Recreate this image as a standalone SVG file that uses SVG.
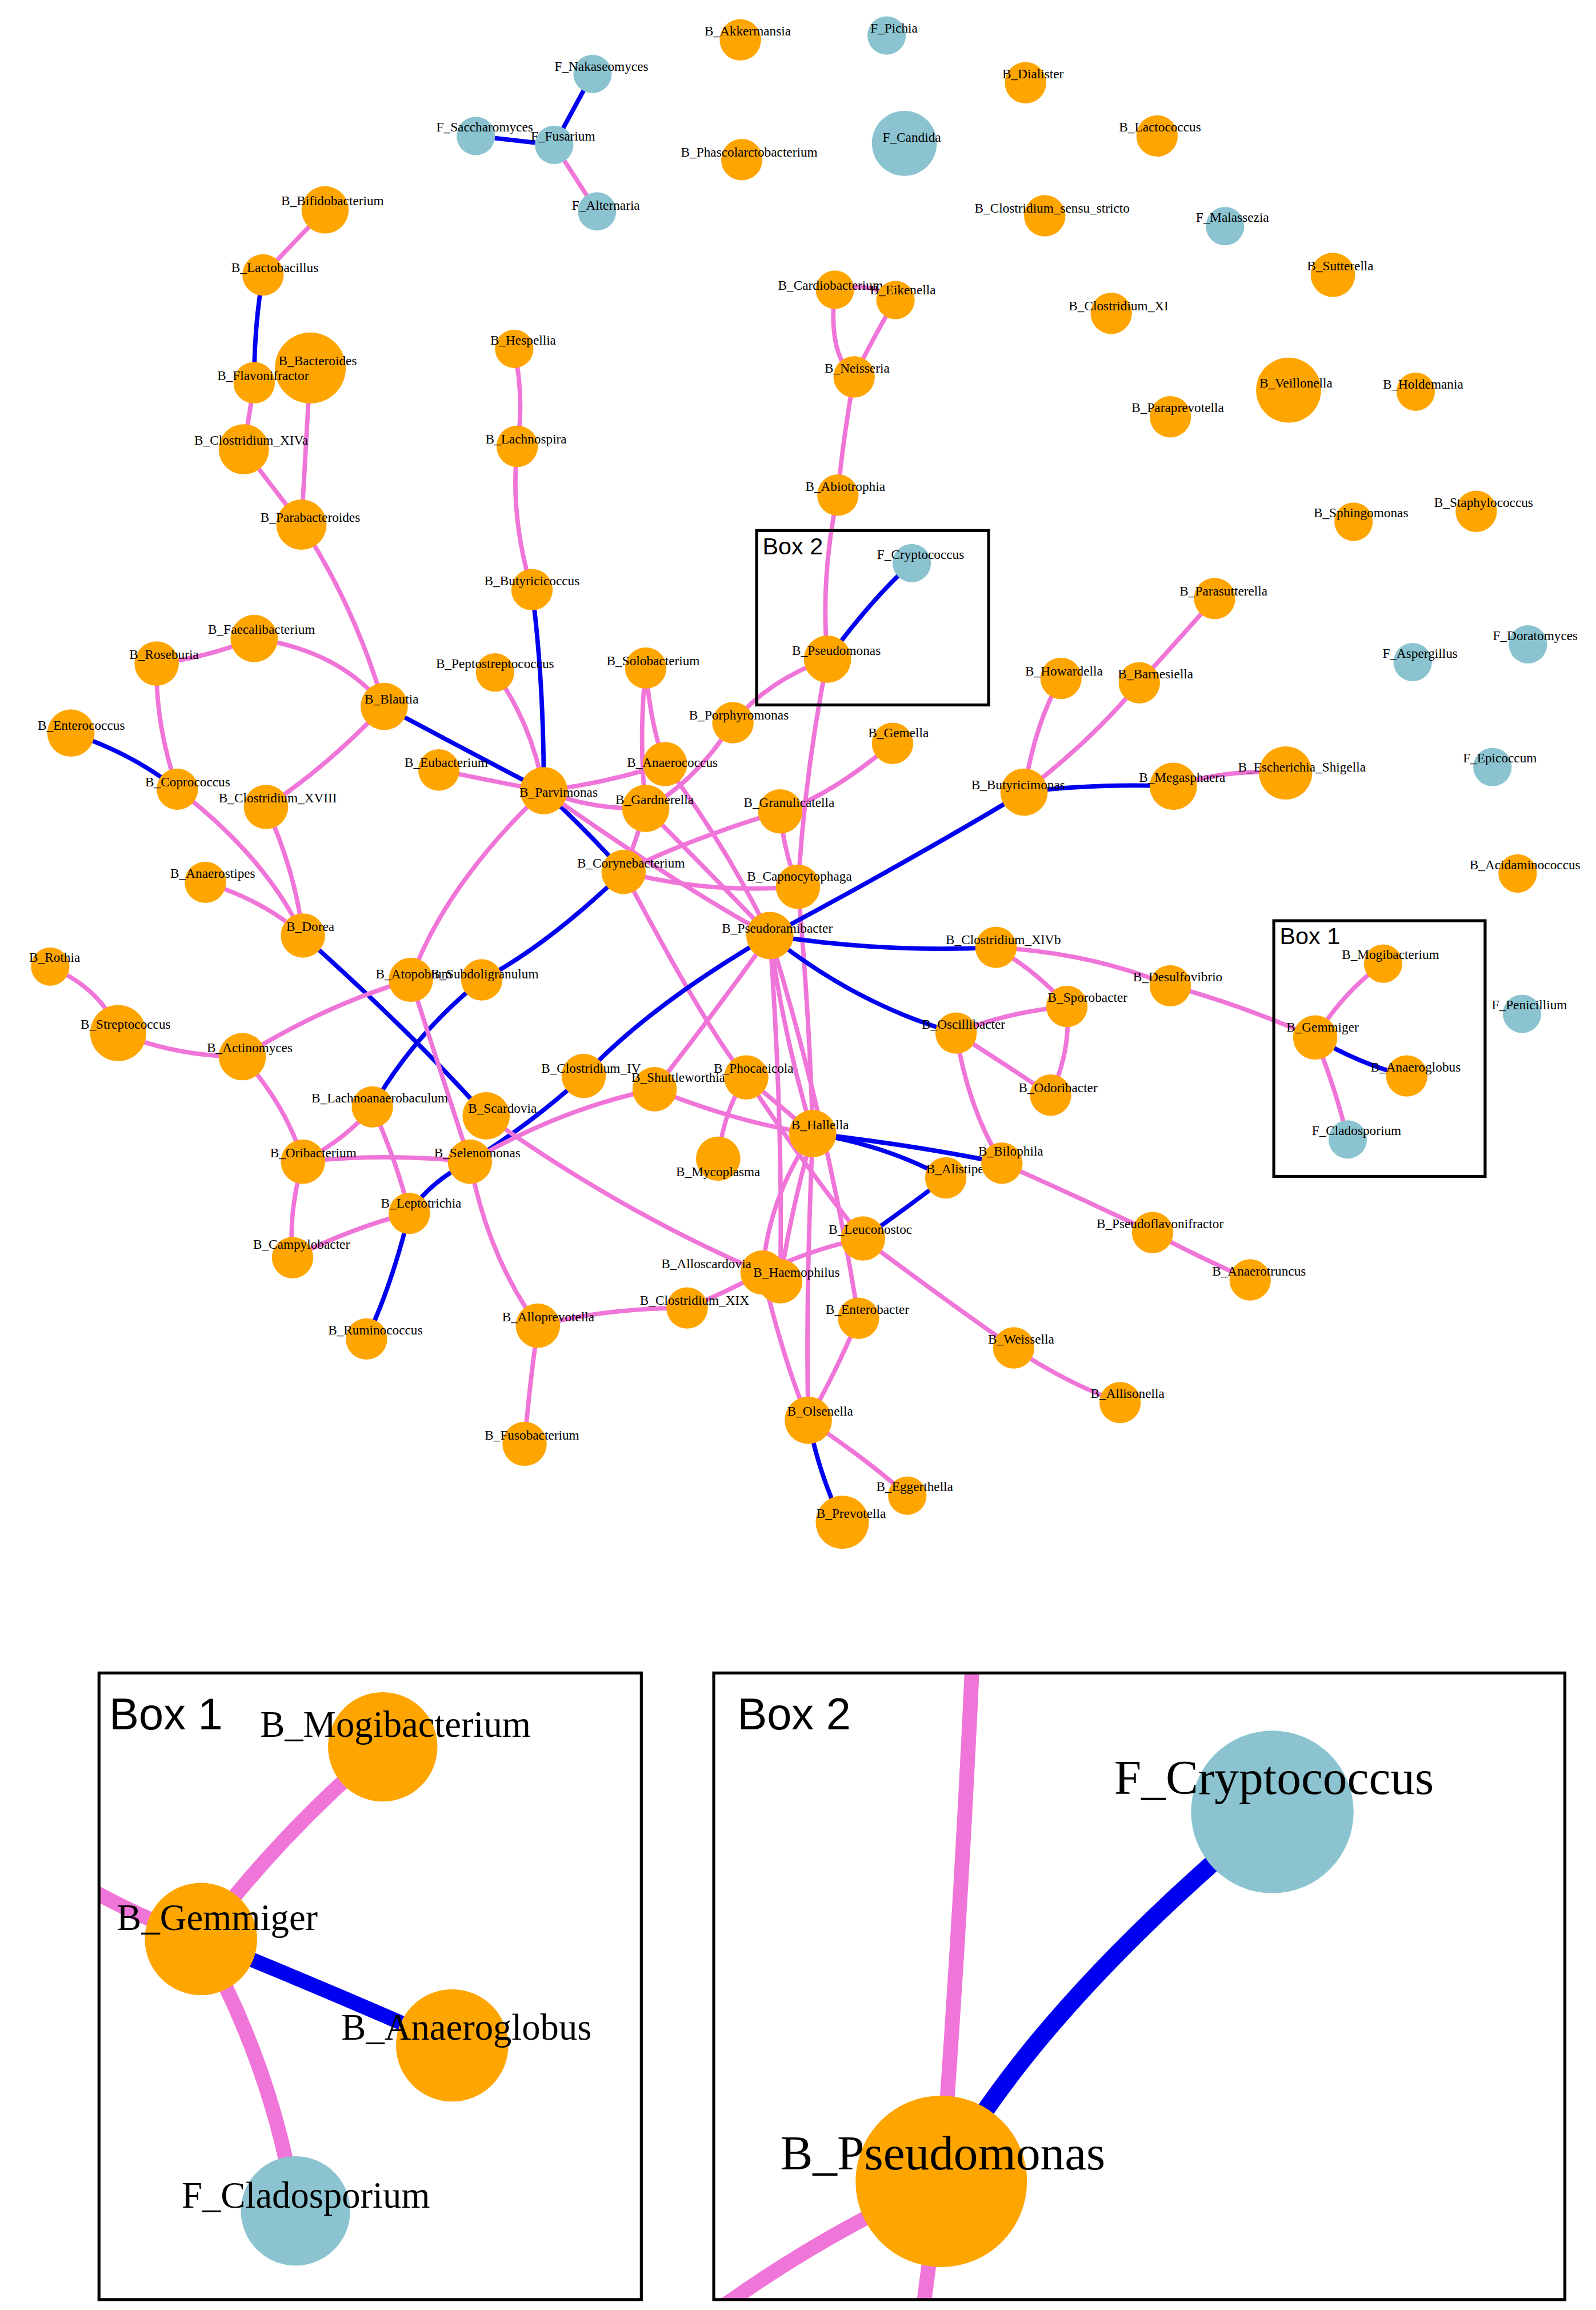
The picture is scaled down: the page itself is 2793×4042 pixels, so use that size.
<svg xmlns="http://www.w3.org/2000/svg" width="2793" height="4042" viewBox="0 0 2793 4042">
<style>
.p{stroke:#F075D8;stroke-width:3;fill:none;stroke-linecap:round}
.b{stroke:#0000F0;stroke-width:3;fill:none;stroke-linecap:round}
.o{fill:#FFA500}
.c{fill:#8BC4D0}
text{font-family:"Liberation Serif",serif;font-size:9px;fill:#000;text-anchor:middle}
.bx{fill:none;stroke:#000;stroke-width:2}
.bl{font-family:"Liberation Sans",sans-serif;font-size:16px;text-anchor:start}
.big{font-size:25px;text-anchor:start}
.big2{font-size:33px;text-anchor:start}
.bl2{font-family:"Liberation Sans",sans-serif;font-size:30px;text-anchor:start}
</style>
<defs>
<clipPath id="c1"><rect x="67" y="1132" width="367" height="424"/></clipPath>
<clipPath id="c2"><rect x="483" y="1132" width="576" height="424"/></clipPath>
</defs>
<rect width="2793" height="4042" fill="#fff"/>
<g transform="scale(2.586)">
<g id="edges">
<line class="b" x1="401" y1="50" x2="375" y2="98"/>
<line class="b" x1="322" y1="92" x2="375" y2="98"/>
<line class="p" x1="375" y1="98" x2="404" y2="143"/>
<line class="p" x1="220" y1="142" x2="178" y2="186"/>
<path class="b" d="M178 186 Q172 220 172 259"/>
<line class="p" x1="172" y1="259" x2="165" y2="304"/>
<line class="p" x1="210" y1="249" x2="204" y2="355"/>
<line class="p" x1="165" y1="304" x2="204" y2="355"/>
<path class="p" d="M204 355 Q240 410 260 478"/>
<path class="p" d="M348 236 Q355 270 350 302"/>
<path class="p" d="M350 302 Q345 350 360 399"/>
<path class="b" d="M360 399 Q368 460 368 535"/>
<path class="p" d="M172 432 Q230 440 260 478"/>
<path class="p" d="M106 449 Q140 445 172 432"/>
<path class="p" d="M106 449 Q105 490 120 534"/>
<path class="b" d="M48 496 Q90 510 120 534"/>
<path class="p" d="M260 478 Q220 520 180 546"/>
<path class="b" d="M260 478 Q320 510 368 535"/>
<path class="p" d="M120 534 Q180 580 205 633"/>
<path class="p" d="M180 546 Q200 590 205 633"/>
<path class="p" d="M139 597 Q180 610 205 633"/>
<path class="b" d="M205 633 Q280 700 329 755"/>
<path class="p" d="M335 455 Q360 490 368 535"/>
<path class="p" d="M297 521 Q340 530 368 535"/>
<path class="p" d="M437 452 Q432 500 437 547"/>
<path class="p" d="M437 452 Q440 490 450 517"/>
<path class="p" d="M368 535 Q410 530 450 517"/>
<path class="p" d="M368 535 Q400 548 437 547"/>
<path class="p" d="M496 489 Q470 530 437 547"/>
<path class="p" d="M496 489 Q520 460 560 446"/>
<path class="p" d="M565 196 Q560 240 578 255"/>
<path class="p" d="M565 196 Q590 190 606 203"/>
<path class="p" d="M606 203 Q590 230 578 255"/>
<path class="p" d="M578 255 Q570 300 567 335"/>
<path class="p" d="M567 335 Q555 390 560 446"/>
<path class="b" d="M617 381 Q590 405 560 446"/>
<path class="p" d="M560 446 Q545 520 540 600"/>
<path class="p" d="M604 503 Q560 540 528 549"/>
<path class="p" d="M528 549 Q460 570 422 590"/>
<path class="p" d="M528 549 Q530 575 540 600"/>
<path class="b" d="M368 535 Q400 565 422 590"/>
<path class="p" d="M437 547 Q430 570 422 590"/>
<path class="p" d="M422 590 Q480 605 540 600"/>
<path class="p" d="M368 535 Q460 600 521 633"/>
<path class="p" d="M450 517 Q490 570 521 633"/>
<path class="p" d="M437 547 Q480 590 521 633"/>
<path class="p" d="M368 535 Q300 600 278 663"/>
<path class="b" d="M422 590 Q370 640 326 663"/>
<path class="b" d="M326 663 Q280 700 252 749"/>
<path class="p" d="M422 590 Q480 700 505 729"/>
<path class="p" d="M540 600 Q548 690 550 767"/>
<path class="b" d="M521 633 Q620 580 693 536"/>
<path class="b" d="M693 536 Q740 530 794 532"/>
<path class="p" d="M693 536 Q700 490 718 459"/>
<path class="p" d="M693 536 Q740 500 771 462"/>
<path class="p" d="M771 462 Q800 430 822 405"/>
<path class="p" d="M794 532 Q830 520 870 523"/>
<path class="b" d="M521 633 Q600 645 674 641"/>
<path class="b" d="M521 633 Q580 680 647 699"/>
<path class="p" d="M674 641 Q740 645 792 667"/>
<path class="p" d="M674 641 Q705 660 722 681"/>
<path class="p" d="M792 667 Q840 680 890 702"/>
<path class="p" d="M722 681 Q680 685 647 699"/>
<path class="p" d="M722 681 Q725 710 711 741"/>
<path class="p" d="M647 699 Q680 720 711 741"/>
<path class="p" d="M647 699 Q655 750 678 787"/>
<path class="p" d="M890 702 Q910 670 936 652"/>
<path class="b" d="M890 702 Q920 720 952 728"/>
<path class="p" d="M890 702 Q905 740 912 771"/>
<path class="b" d="M521 633 Q440 680 395 728"/>
<path class="b" d="M395 728 Q360 760 318 786"/>
<path class="b" d="M318 786 Q290 800 277 821"/>
<path class="b" d="M277 821 Q265 870 248 906"/>
<path class="p" d="M521 633 Q480 690 443 737"/>
<path class="p" d="M521 633 Q530 700 550 767"/>
<path class="p" d="M521 633 Q530 760 528 867"/>
<path class="p" d="M521 633 Q560 760 581 892"/>
<path class="p" d="M34 654 Q70 670 80 699"/>
<path class="p" d="M80 699 Q120 715 164 715"/>
<path class="p" d="M164 715 Q220 680 278 663"/>
<path class="p" d="M164 715 Q195 750 205 786"/>
<path class="p" d="M278 663 Q300 730 318 786"/>
<path class="p" d="M205 786 Q260 780 318 786"/>
<path class="p" d="M205 786 Q235 770 252 749"/>
<path class="p" d="M205 786 Q195 820 198 851"/>
<path class="p" d="M198 851 Q240 830 277 821"/>
<path class="p" d="M252 749 Q270 790 277 821"/>
<path class="p" d="M318 786 Q380 750 443 737"/>
<path class="p" d="M318 786 Q330 850 364 897"/>
<path class="p" d="M329 755 Q420 820 516 861"/>
<path class="p" d="M443 737 Q500 760 550 767"/>
<path class="p" d="M505 729 Q490 750 486 784"/>
<path class="p" d="M505 729 Q530 750 550 767"/>
<path class="p" d="M505 729 Q545 790 584 838"/>
<path class="b" d="M550 767 Q600 775 640 797"/>
<path class="b" d="M550 767 Q620 775 678 787"/>
<path class="b" d="M640 797 Q610 820 584 838"/>
<path class="p" d="M550 767 Q520 810 516 861"/>
<path class="p" d="M550 767 Q535 820 528 867"/>
<path class="p" d="M550 767 Q545 880 547 961"/>
<path class="p" d="M678 787 Q730 810 780 834"/>
<path class="p" d="M780 834 Q810 850 846 866"/>
<path class="p" d="M584 838 Q550 845 516 861"/>
<path class="p" d="M584 838 Q640 880 686 912"/>
<path class="p" d="M686 912 Q720 935 758 949"/>
<path class="p" d="M516 861 Q490 875 465 885"/>
<path class="p" d="M465 885 Q410 885 364 897"/>
<path class="p" d="M364 897 Q358 940 355 977"/>
<path class="p" d="M516 861 Q530 920 547 961"/>
<path class="p" d="M581 892 Q565 930 547 961"/>
<path class="b" d="M547 961 Q555 1000 570 1030"/>
<path class="p" d="M547 961 Q590 990 614 1012"/>
</g>
<g id="nodes">
<g id="n1"><circle class="o" cx="501" cy="27" r="14"/><text x="506" y="24">B_Akkermansia</text></g>
<g id="n2"><circle class="c" cx="600" cy="24" r="13"/><text x="605" y="22">F_Pichia</text></g>
<g id="n3"><circle class="c" cx="401" cy="50" r="13"/><text x="407" y="48">F_Nakaseomyces</text></g>
<g id="n4"><circle class="c" cx="322" cy="92" r="13"/><text x="328" y="89">F_Saccharomyces</text></g>
<g id="n5"><circle class="c" cx="375" cy="98" r="13"/><text x="381" y="95">F_Fusarium</text></g>
<g id="n6"><circle class="c" cx="404" cy="143" r="13"/><text x="410" y="142">F_Alternaria</text></g>
<g id="n7"><circle class="o" cx="694" cy="56" r="14"/><text x="699" y="53">B_Dialister</text></g>
<g id="n8"><circle class="c" cx="612" cy="97" r="22"/><text x="617" y="96">F_Candida</text></g>
<g id="n9"><circle class="o" cx="502" cy="108" r="14"/><text x="507" y="106">B_Phascolarctobacterium</text></g>
<g id="n10"><circle class="o" cx="783" cy="92" r="14"/><text x="785" y="89">B_Lactococcus</text></g>
<g id="n11"><circle class="o" cx="707" cy="146" r="14"/><text x="712" y="144">B_Clostridium_sensu_stricto</text></g>
<g id="n12"><circle class="c" cx="829" cy="153" r="13"/><text x="834" y="150">F_Malassezia</text></g>
<g id="n13"><circle class="o" cx="902" cy="186" r="15"/><text x="907" y="183">B_Sutterella</text></g>
<g id="n14"><circle class="o" cx="752" cy="212" r="14"/><text x="757" y="210">B_Clostridium_XI</text></g>
<g id="n15"><circle class="o" cx="872" cy="264" r="22"/><text x="877" y="262">B_Veillonella</text></g>
<g id="n16"><circle class="o" cx="958" cy="265" r="13"/><text x="963" y="263">B_Holdemania</text></g>
<g id="n17"><circle class="o" cx="792" cy="282" r="14"/><text x="797" y="279">B_Paraprevotella</text></g>
<g id="n18"><circle class="o" cx="916" cy="353" r="13"/><text x="921" y="350">B_Sphingomonas</text></g>
<g id="n19"><circle class="o" cx="999" cy="346" r="14"/><text x="1004" y="343">B_Staphylococcus</text></g>
<g id="n20"><circle class="o" cx="822" cy="405" r="14"/><text x="828" y="403">B_Parasutterella</text></g>
<g id="n21"><circle class="c" cx="956" cy="448" r="13"/><text x="961" y="445">F_Aspergillus</text></g>
<g id="n22"><circle class="c" cx="1034" cy="436" r="13"/><text x="1039" y="433">F_Doratomyces</text></g>
<g id="n23"><circle class="o" cx="870" cy="523" r="18"/><text x="881" y="522">B_Escherichia_Shigella</text></g>
<g id="n24"><circle class="c" cx="1010" cy="519" r="13"/><text x="1015" y="516">F_Epicoccum</text></g>
<g id="n25"><circle class="o" cx="1027" cy="591" r="13"/><text x="1032" y="588">B_Acidaminococcus</text></g>
<g id="n26"><circle class="c" cx="1030" cy="686" r="13"/><text x="1035" y="683">F_Penicillium</text></g>
<g id="n27"><circle class="o" cx="220" cy="142" r="16"/><text x="225" y="139">B_Bifidobacterium</text></g>
<g id="n28"><circle class="o" cx="178" cy="186" r="14"/><text x="186" y="184">B_Lactobacillus</text></g>
<g id="n29"><circle class="o" cx="210" cy="249" r="24"/><text x="215" y="247">B_Bacteroides</text></g>
<g id="n30"><circle class="o" cx="172" cy="259" r="14"/><text x="178" y="257">B_Flavonifractor</text></g>
<g id="n31"><circle class="o" cx="165" cy="304" r="17"/><text x="170" y="301">B_Clostridium_XIVa</text></g>
<g id="n32"><circle class="o" cx="204" cy="355" r="17"/><text x="210" y="353">B_Parabacteroides</text></g>
<g id="n33"><circle class="o" cx="348" cy="236" r="13"/><text x="354" y="233">B_Hespellia</text></g>
<g id="n34"><circle class="o" cx="350" cy="302" r="14"/><text x="356" y="300">B_Lachnospira</text></g>
<g id="n35"><circle class="o" cx="360" cy="399" r="14"/><text x="360" y="396">B_Butyricicoccus</text></g>
<g id="n36"><circle class="o" cx="172" cy="432" r="16"/><text x="177" y="429">B_Faecalibacterium</text></g>
<g id="n37"><circle class="o" cx="106" cy="449" r="15"/><text x="111" y="446">B_Roseburia</text></g>
<g id="n38"><circle class="o" cx="260" cy="478" r="16"/><text x="265" y="476">B_Blautia</text></g>
<g id="n39"><circle class="o" cx="48" cy="496" r="16"/><text x="55" y="494">B_Enterococcus</text></g>
<g id="n40"><circle class="o" cx="120" cy="534" r="14"/><text x="127" y="532">B_Coprococcus</text></g>
<g id="n41"><circle class="o" cx="180" cy="546" r="15"/><text x="188" y="543">B_Clostridium_XVIII</text></g>
<g id="n42"><circle class="o" cx="139" cy="597" r="14"/><text x="144" y="594">B_Anaerostipes</text></g>
<g id="n43"><circle class="o" cx="205" cy="633" r="15"/><text x="210" y="630">B_Dorea</text></g>
<g id="n44"><circle class="o" cx="34" cy="654" r="13"/><text x="37" y="651">B_Rothia</text></g>
<g id="n45"><circle class="o" cx="80" cy="699" r="19"/><text x="85" y="696">B_Streptococcus</text></g>
<g id="n46"><circle class="o" cx="164" cy="715" r="16"/><text x="169" y="712">B_Actinomyces</text></g>
<g id="n47"><circle class="o" cx="335" cy="455" r="13"/><text x="335" y="452">B_Peptostreptococcus</text></g>
<g id="n48"><circle class="o" cx="437" cy="452" r="14"/><text x="442" y="450">B_Solobacterium</text></g>
<g id="n49"><circle class="o" cx="496" cy="489" r="14"/><text x="500" y="487">B_Porphyromonas</text></g>
<g id="n50"><circle class="o" cx="297" cy="521" r="14"/><text x="302" y="519">B_Eubacterium</text></g>
<g id="n51"><circle class="o" cx="450" cy="517" r="15"/><text x="455" y="519">B_Anaerococcus</text></g>
<g id="n52"><circle class="o" cx="368" cy="535" r="16"/><text x="378" y="539">B_Parvimonas</text></g>
<g id="n53"><circle class="o" cx="437" cy="547" r="16"/><text x="443" y="544">B_Gardnerella</text></g>
<g id="n54"><circle class="o" cx="565" cy="196" r="13"/><text x="562" y="196">B_Cardiobacterium</text></g>
<g id="n55"><circle class="o" cx="606" cy="203" r="13"/><text x="611" y="199">B_Eikenella</text></g>
<g id="n56"><circle class="o" cx="578" cy="255" r="14"/><text x="580" y="252">B_Neisseria</text></g>
<g id="n57"><circle class="o" cx="567" cy="335" r="14"/><text x="572" y="332">B_Abiotrophia</text></g>
<g id="n58"><circle class="c" cx="617" cy="381" r="13"/><text x="623" y="378">F_Cryptococcus</text></g>
<g id="n59"><circle class="o" cx="560" cy="446" r="16"/><text x="566" y="443">B_Pseudomonas</text></g>
<g id="n60"><circle class="o" cx="604" cy="503" r="14"/><text x="608" y="499">B_Gemella</text></g>
<g id="n61"><circle class="o" cx="528" cy="549" r="15"/><text x="534" y="546">B_Granulicatella</text></g>
<g id="n62"><circle class="o" cx="422" cy="590" r="15"/><text x="427" y="587">B_Corynebacterium</text></g>
<g id="n63"><circle class="o" cx="540" cy="600" r="15"/><text x="541" y="596">B_Capnocytophaga</text></g>
<g id="n64"><circle class="o" cx="521" cy="633" r="16"/><text x="526" y="631">B_Pseudoramibacter</text></g>
<g id="n65"><circle class="o" cx="278" cy="663" r="15"/><text x="280" y="662">B_Atopobium</text></g>
<g id="n66"><circle class="o" cx="326" cy="663" r="14"/><text x="328" y="662">B_Subdoligranulum</text></g>
<g id="n67"><circle class="o" cx="718" cy="459" r="14"/><text x="720" y="457">B_Howardella</text></g>
<g id="n68"><circle class="o" cx="771" cy="462" r="14"/><text x="782" y="459">B_Barnesiella</text></g>
<g id="n69"><circle class="o" cx="693" cy="536" r="16"/><text x="689" y="534">B_Butyricimonas</text></g>
<g id="n70"><circle class="o" cx="794" cy="532" r="16"/><text x="800" y="529">B_Megasphaera</text></g>
<g id="n71"><circle class="o" cx="674" cy="641" r="14"/><text x="679" y="639">B_Clostridium_XlVb</text></g>
<g id="n72"><circle class="o" cx="792" cy="667" r="14"/><text x="797" y="664">B_Desulfovibrio</text></g>
<g id="n73"><circle class="o" cx="722" cy="681" r="14"/><text x="736" y="678">B_Sporobacter</text></g>
<g id="n74"><circle class="o" cx="647" cy="699" r="14"/><text x="652" y="696">B_Oscillibacter</text></g>
<g id="n75"><circle class="o" cx="711" cy="741" r="14"/><text x="716" y="739">B_Odoribacter</text></g>
<g id="n76"><circle class="o" cx="936" cy="652" r="13"/><text x="941" y="649">B_Mogibacterium</text></g>
<g id="n77"><circle class="o" cx="890" cy="702" r="15"/><text x="895" y="698">B_Gemmiger</text></g>
<g id="n78"><circle class="o" cx="952" cy="728" r="14"/><text x="958" y="725">B_Anaeroglobus</text></g>
<g id="n79"><circle class="c" cx="912" cy="771" r="13"/><text x="918" y="768">F_Cladosporium</text></g>
<g id="n80"><circle class="o" cx="395" cy="728" r="15"/><text x="400" y="726">B_Clostridium_IV</text></g>
<g id="n81"><circle class="o" cx="443" cy="737" r="15"/><text x="459" y="732">B_Shuttleworthia</text></g>
<g id="n82"><circle class="o" cx="505" cy="729" r="15"/><text x="510" y="726">B_Phocaeicola</text></g>
<g id="n83"><circle class="o" cx="252" cy="749" r="14"/><text x="257" y="746">B_Lachnoanaerobaculum</text></g>
<g id="n84"><circle class="o" cx="329" cy="755" r="16"/><text x="340" y="753">B_Scardovia</text></g>
<g id="n85"><circle class="o" cx="318" cy="786" r="15"/><text x="323" y="783">B_Selenomonas</text></g>
<g id="n86"><circle class="o" cx="205" cy="786" r="15"/><text x="212" y="783">B_Oribacterium</text></g>
<g id="n87"><circle class="o" cx="550" cy="767" r="16"/><text x="555" y="764">B_Hallella</text></g>
<g id="n88"><circle class="o" cx="640" cy="797" r="14"/><text x="648" y="794">B_Alistipes</text></g>
<g id="n89"><circle class="o" cx="678" cy="787" r="14"/><text x="684" y="782">B_Bilophila</text></g>
<g id="n90"><circle class="o" cx="486" cy="784" r="15"/><text x="486" y="796">B_Mycoplasma</text></g>
<g id="n91"><circle class="o" cx="277" cy="821" r="14"/><text x="285" y="817">B_Leptotrichia</text></g>
<g id="n92"><circle class="o" cx="198" cy="851" r="14"/><text x="204" y="845">B_Campylobacter</text></g>
<g id="n93"><circle class="o" cx="584" cy="838" r="15"/><text x="589" y="835">B_Leuconostoc</text></g>
<g id="n94"><circle class="o" cx="780" cy="834" r="14"/><text x="785" y="831">B_Pseudoflavonifractor</text></g>
<g id="n95"><circle class="o" cx="846" cy="866" r="14"/><text x="852" y="863">B_Anaerotruncus</text></g>
<g id="n96"><circle class="o" cx="516" cy="861" r="15"/><text x="478" y="858">B_Alloscardovia</text></g>
<g id="n97"><circle class="o" cx="528" cy="867" r="15"/><text x="539" y="864">B_Haemophilus</text></g>
<g id="n98"><circle class="o" cx="465" cy="885" r="14"/><text x="470" y="883">B_Clostridium_XIX</text></g>
<g id="n99"><circle class="o" cx="364" cy="897" r="15"/><text x="371" y="894">B_Alloprevotella</text></g>
<g id="n100"><circle class="o" cx="581" cy="892" r="14"/><text x="587" y="889">B_Enterobacter</text></g>
<g id="n101"><circle class="o" cx="248" cy="906" r="14"/><text x="254" y="903">B_Ruminococcus</text></g>
<g id="n102"><circle class="o" cx="686" cy="912" r="14"/><text x="691" y="909">B_Weissella</text></g>
<g id="n103"><circle class="o" cx="758" cy="949" r="14"/><text x="763" y="946">B_Allisonella</text></g>
<g id="n104"><circle class="o" cx="355" cy="977" r="15"/><text x="360" y="974">B_Fusobacterium</text></g>
<g id="n105"><circle class="o" cx="547" cy="961" r="16"/><text x="555" y="958">B_Olsenella</text></g>
<g id="n106"><circle class="o" cx="614" cy="1012" r="13"/><text x="619" y="1009">B_Eggerthella</text></g>
<g id="n107"><circle class="o" cx="570" cy="1030" r="18"/><text x="576" y="1027">B_Prevotella</text></g>
</g>
<g id="boxes">
<rect class="bx" x="862" y="623" width="143" height="173"/>
<text class="bl" x="866" y="639">Box 1</text>
<rect class="bx" x="512" y="359" width="157" height="118"/>
<text class="bl" x="516" y="375">Box 2</text>
</g>
<g id="inset1">
<g clip-path="url(#c1)">
<path class="p" style="stroke-width:10" d="M60 1278 Q100 1300 136 1312"/>
<path class="p" style="stroke-width:10" d="M136 1312 Q190 1240 259 1182"/>
<path class="b" style="stroke-width:10" d="M136 1312 Q230 1350 306 1384"/>
<path class="p" style="stroke-width:10" d="M136 1312 Q185 1400 200 1496"/>
<circle class="o" cx="259" cy="1182" r="37"/>
<circle class="o" cx="136" cy="1312" r="38"/>
<circle class="o" cx="306" cy="1384" r="38"/>
<circle class="c" cx="200" cy="1496" r="37"/>
<text class="big" x="176" y="1175">B_Mogibacterium</text>
<text class="big" x="79" y="1306">B_Gemmiger</text>
<text class="big" x="231" y="1380">B_Anaeroglobus</text>
<text class="big" x="123" y="1494">F_Cladosporium</text>
</g>
<rect class="bx" x="67" y="1132" width="367" height="424"/>
<text class="bl2" x="74" y="1170">Box 1</text>
</g>
<g id="inset2">
<g clip-path="url(#c2)">
<path class="p" style="stroke-width:10" d="M658 1125 Q650 1300 637 1476"/>
<path class="b" style="stroke-width:12" d="M637 1476 Q700 1360 861 1226"/>
<path class="p" style="stroke-width:10" d="M637 1476 Q560 1510 490 1560"/>
<path class="p" style="stroke-width:10" d="M637 1476 Q630 1520 625 1560"/>
<circle class="c" cx="861" cy="1226" r="55"/>
<circle class="o" cx="637" cy="1476" r="58"/>
<text class="big2" x="754" y="1214">F_Cryptococcus</text>
<text class="big2" x="528" y="1468">B_Pseudomonas</text>
</g>
<rect class="bx" x="483" y="1132" width="576" height="424"/>
<text class="bl2" x="499" y="1170">Box 2</text>
</g>
</g>
</svg>
